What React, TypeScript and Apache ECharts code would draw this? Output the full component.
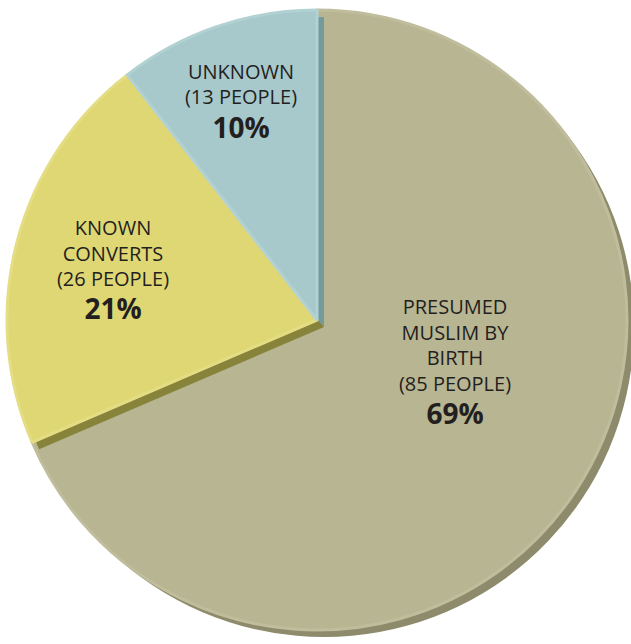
import React, { useEffect, useRef } from "react";
import * as echarts from "echarts";

const categories = ["PRESUMED\nMUSLIM BY\nBIRTH", "KNOWN\nCONVERTS", "UNKNOWN"];
const people = [85, 26, 13];

const faceColors = ["#b8b592", "#dfd774", "#a7c9cc"];
const sideColors = ["#8d8b6b", "#87833b", "#739a9d"];
const rimColors = ["#c0bd9c", "#e5dd84", "#b2d1d3"];
const labelPos = [
  [455, 362],
  [113, 270],
  [241, 101],
];

const CX = 317;
const CY = 320;
const R = 310;
const OFF_X = 7;
const OFF_Y = 7;

export default function App() {
  const ref = useRef<HTMLDivElement>(null);
  useEffect(() => {
    document.body.style.margin = "0";
    const chart = echarts.init(ref.current!, null, { renderer: "svg" });

    const makeData = (colors: string[], visible: (i: number) => boolean, border?: string[]) =>
      categories.map((name, i) => ({
        name,
        value: people[i],
        itemStyle: visible(i)
          ? {
              color: colors[i],
              borderColor: border ? border[i] : colors[i],
              borderWidth: border ? 3 : 0,
            }
          : { color: "rgba(0,0,0,0)", borderWidth: 0 },
      }));

    const base = {
      type: "pie",
      radius: R,
      startAngle: 90,
      clockwise: true,
      avoidLabelOverlap: false,
      silent: true,
      labelLine: { show: false },
      label: { show: false },
      emphasis: { disabled: true },
    };

    chart.setOption({
      animation: false,
      backgroundColor: "#ffffff",
      series: [
        {
          ...base,
          z: 1,
          center: [CX + OFF_X, CY + OFF_Y],
          data: makeData(sideColors, (i) => i === 0),
        },
        {
          ...base,
          z: 2,
          center: [CX, CY],
          data: makeData(faceColors, (i) => i === 0, rimColors),
        },
        {
          ...base,
          z: 3,
          center: [CX + OFF_X, CY + OFF_Y],
          data: makeData(sideColors, (i) => i !== 0),
        },
        {
          ...base,
          z: 4,
          center: [CX, CY],
          data: makeData(faceColors, (i) => i !== 0, rimColors),
          label: {
            show: true,
            position: "inside",
            align: "center",
            verticalAlign: "middle",
            color: "#231f20",
            fontFamily: "Open Sans",
            formatter: (p: any) => {
              const lines = String(p.name)
                .split("\n")
                .map((l: string) => `{t|${l}}`);
              lines.push(`{t|(${p.value} PEOPLE)}`);
              lines.push(`{p|${Math.round(p.percent)}%}`);
              return lines.join("\n");
            },
            rich: {
              t: {
                fontSize: 20,
                lineHeight: 25.5,
                color: "#231f20",
                fontFamily: "Open Sans",
                align: "center",
              },
              p: {
                fontSize: 28,
                fontWeight: "bold",
                lineHeight: 34,
                color: "#231f20",
                fontFamily: "Open Sans",
                align: "center",
              },
            },
          },
          labelLayout: (params: any) => ({
            x: labelPos[params.dataIndex][0],
            y: labelPos[params.dataIndex][1],
            align: "center",
            verticalAlign: "middle",
          }),
        },
      ],
    });
    return () => chart.dispose();
  }, []);
  return (
    <div
      ref={ref}
      style={{ position: "absolute", left: 0, top: 0, width: 631, height: 644 }}
    />
  );
}
